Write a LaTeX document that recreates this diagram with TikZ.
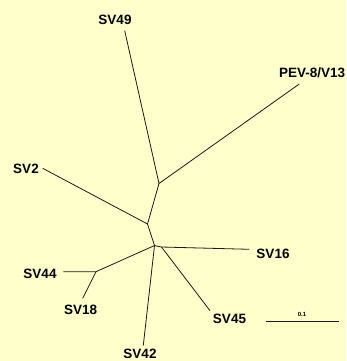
\documentclass[tikz,border=0pt]{standalone}
\usepackage{fontspec}
\setmainfont{Liberation Sans}
\definecolor{paper}{HTML}{FFFFCC}
\tikzset{
  branch/.style={line width=0.8pt, draw=black!90},
  taxon/.style={font=\bfseries\fontsize{13.5}{14}\selectfont, inner sep=0pt},
  scalelbl/.style={font=\bfseries\fontsize{6}{7}\selectfont, inner sep=0pt}
}
\begin{document}
\begin{tikzpicture}[x=1pt,y=-1pt]
  \fill[paper] (0,0) rectangle (346,361);
  \useasboundingbox (0,0) rectangle (346,361);
  % internal nodes of the tree
  \coordinate (nA) at (159,183.5);
  \coordinate (nB) at (147.5,224);
  \coordinate (nC) at (154.5,245.5);
  \coordinate (nD) at (161.5,247);
  \coordinate (nE) at (96,271.7);
  % leaf ends
  \coordinate (tSV49) at (124.7,30.7);
  \coordinate (tPEV) at (299.3,84);
  \coordinate (tSV2) at (42.7,168.3);
  \coordinate (tSV16) at (249.3,249.3);
  \coordinate (tSV45) at (210,310.7);
  \coordinate (tSV42) at (143.3,345.5);
  \coordinate (tSV44) at (63.3,271.7);
  \coordinate (tSV18) at (82.7,298.3);
  % branches
  \draw[branch] (tSV49) -- (nA) -- (tPEV);
  \draw[branch] (nA) -- (nB) -- (tSV2);
  \draw[branch] (nB) -- (nC) -- (nD) -- (tSV16);
  \draw[branch] (nD) -- (tSV45);
  \draw[branch] (nC) -- (tSV42);
  \draw[branch] (nC) -- (nE) -- (tSV44);
  \draw[branch] (nE) -- (tSV18);
  % leaf labels
  \node[taxon] (lSV49) at (115,19.5) {SV49};
  \node[taxon, anchor=west] (lPEV) at (279,73) {PEV-8/V13};
  \node[taxon] (lSV2) at (26,168.5) {SV2};
  \node[taxon] (lSV16) at (273,253.5) {SV16};
  \node[taxon] (lSV45) at (229.5,318.5) {SV45};
  \node[taxon] (lSV42) at (140,353.8) {SV42};
  \node[taxon] (lSV44) at (40,273.5) {SV44};
  \node[taxon] (lSV18) at (80.7,309.5) {SV18};
  % scale bar
  \coordinate (sL) at (266,321);
  \coordinate (sR) at (338.7,321);
  \draw[branch] (sL) -- (sR);
  \node[scalelbl] (lScale) at (302,314) {0.1};
\end{tikzpicture}
\end{document}
